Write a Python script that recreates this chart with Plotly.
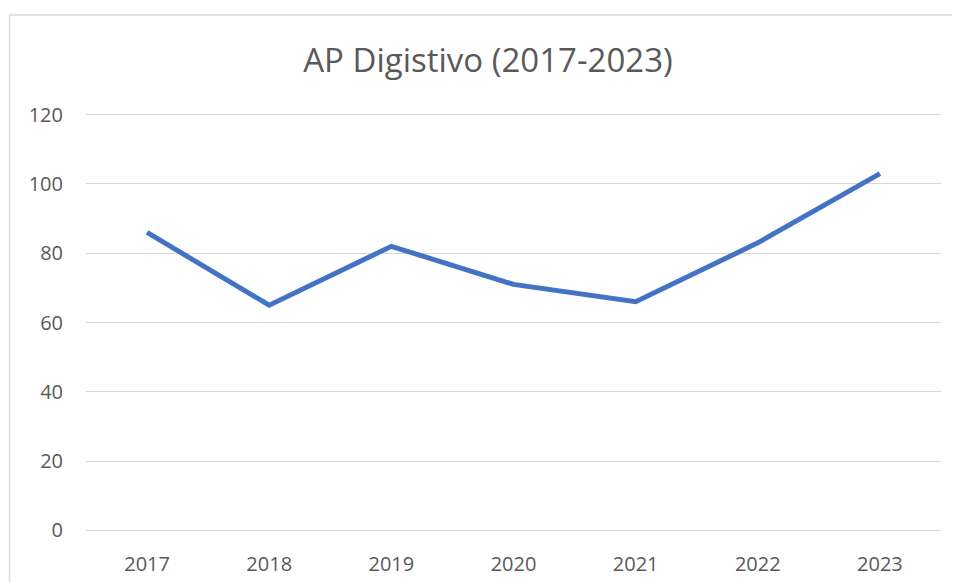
import plotly.graph_objects as go

# data
years = ['2017', '2018', '2019', '2020', '2021', '2022', '2023']
valori = [86, 65, 82, 71, 66, 83, 103]
y_ticks = [0, 20, 40, 60, 80, 100, 120]

# la pagina html ha un margine di 8px sul body: si compensa nei margini
OFF = 8
W, H = 960, 582
ML, MR, MT, MB = 86 - OFF, 27, 105, 58
plot_w = W - ML - MR
plot_h = H - MT - MB

fig = go.Figure()
fig.add_trace(go.Scatter(
    x=years, y=valori, mode='lines',
    line=dict(color='#4472C4', width=5),
    showlegend=False,
))

# cornice grigia del grafico (tagliata a destra e in basso come nell'originale)
fig.add_shape(
    type='rect', xref='paper', yref='paper',
    x0=(9.5 - OFF - ML) / plot_w, x1=2,
    y0=-1, y1=(H - MB - (15 - OFF)) / plot_h,
    line=dict(color='#d9d9d9', width=1.5),
    layer='below',
)

fig.update_layout(
    width=W, height=H,
    margin=dict(l=ML, r=MR, t=MT, b=MB),
    paper_bgcolor='white', plot_bgcolor='white',
    font=dict(family='Open Sans', color='#595959', size=20),
    title=dict(
        text='AP Digistivo (2017-2023)',
        font=dict(size=33, color='#595959'),
        x=(488 - OFF) / W, xref='container', xanchor='center',
        y=1 - (60 - OFF) / H, yref='container', yanchor='middle',
    ),
    xaxis=dict(
        type='category', range=[-0.5, 6.5],
        showgrid=False, showline=False, zeroline=False,
        ticks='', ticklabelstandoff=18,
    ),
    yaxis=dict(
        range=[-0.5, 120.5], tickvals=y_ticks,
        showgrid=True, gridcolor='#d9d9d9', gridwidth=1.3,
        showline=False, zeroline=False,
        ticks='', ticklabelstandoff=22,
    ),
)

fig.write_html('out.html')
